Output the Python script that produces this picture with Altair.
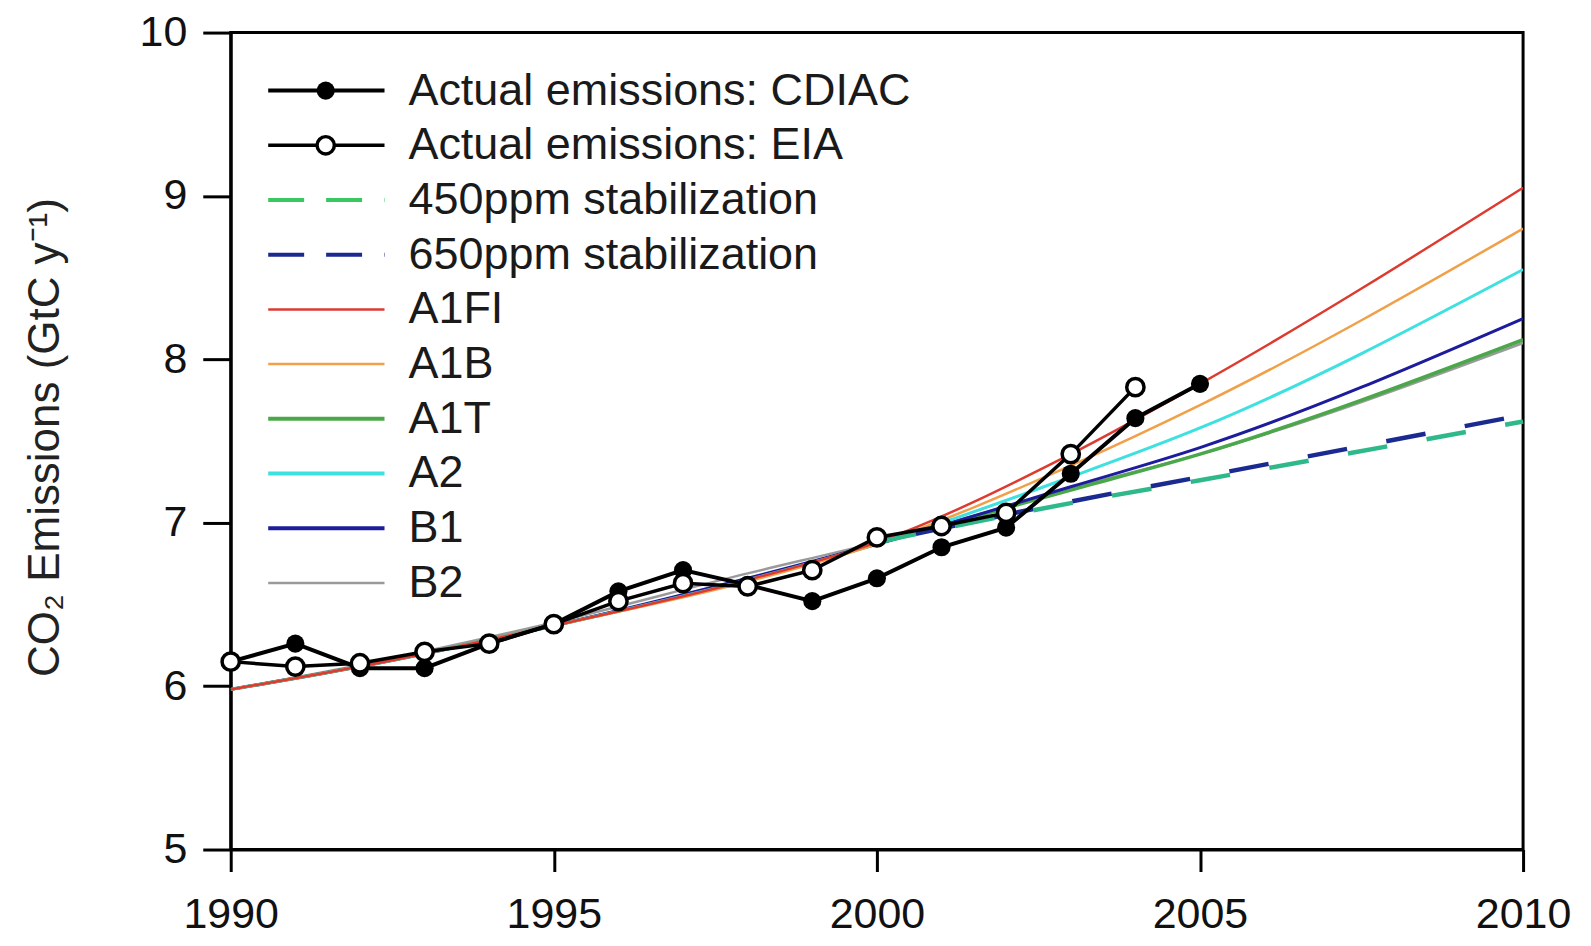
import altair as alt
import pandas as pd

# ---------------- data ----------------
obs_years = list(range(1990, 2006))
cdiac = [6.15, 6.26, 6.11, 6.11, 6.26, 6.38, 6.58, 6.71, 6.62, 6.52, 6.66, 6.85, 6.97, 7.30, 7.64, 7.85]
eia_years = list(range(1990, 2005))
eia = [6.15, 6.12, 6.14, 6.21, 6.26, 6.38, 6.52, 6.63, 6.61, 6.71, 6.91, 6.98, 7.06, 7.42, 7.83]

scen_years = [1990, 1992, 1995, 1998, 2000, 2003, 2005, 2010]
a1fi = [5.98, 6.12, 6.37, 6.65, 6.88, 7.42, 7.85, 9.05]
a1b = [5.98, 6.12, 6.37, 6.64, 6.87, 7.35, 7.72, 8.80]
a2 = [5.98, 6.12, 6.37, 6.65, 6.87, 7.28, 7.58, 8.55]
b1 = [5.98, 6.12, 6.37, 6.66, 6.87, 7.22, 7.46, 8.25]
a1t = [5.98, 6.12, 6.37, 6.65, 6.87, 7.20, 7.42, 8.12]
b2 = [5.98, 6.13, 6.39, 6.69, 6.88, 7.21, 7.42, 8.10]

stab_years = [2000, 2003, 2005, 2010]
s450 = [6.88, 7.12, 7.26, 7.62]
s650 = [6.88, 7.13, 7.28, 7.66]

legend_labels = ["Actual emissions: CDIAC", "Actual emissions: EIA", "450ppm stabilization",
                 "650ppm stabilization", "A1FI", "A1B", "A1T", "A2", "B1", "B2"]

# ---------------- style ----------------
FONT = "Liberation Sans"
W, H = 1294, 818
xs = alt.Scale(domain=[1990, 2010], nice=False, zero=False)
ys = alt.Scale(domain=[5, 10], nice=False, zero=False)

x_axis = alt.Axis(
    values=[1990, 1995, 2000, 2005, 2010], format="d", title=None, grid=False,
    tickSize=22, tickWidth=3, tickColor="black", domainWidth=3, domainColor="black",
    labelFontSize=43, labelFont=FONT, labelColor="#111", labelPadding=22,
    labelFlush=False, labelOverlap=False)
y_axis = alt.Axis(
    values=[5, 6, 7, 8, 9, 10], title="CO₂ Emissions (GtC y⁻¹)", grid=False,
    tickSize=28, tickWidth=3, tickColor="black", domainWidth=3, domainColor="black",
    labelFontSize=43, labelFont=FONT, labelColor="#111", labelPadding=16,
    titleFont=FONT, titleFontSize=44, titleFontWeight="normal", titleColor="#222",
    titleX=-185, titleY=H / 2 - 4, titleBaseline="middle", titleAngle=-90,
    labelFlush=False, labelOverlap=False)


def X(field="x"):
    return alt.X(field, type="quantitative", scale=xs, axis=x_axis)


def Y(field="y"):
    return alt.Y(field, type="quantitative", scale=ys, axis=y_axis)


layers = []

scenarios = [
    ("B2", b2, "#9a9a9a", 2.5),
    ("A1T", a1t, "#4aa84a", 3.5),
    ("B1", b1, "#1c1c9c", 3),
    ("A2", a2, "#3fe0e0", 3),
    ("A1B", a1b, "#f0a048", 2.5),
    ("A1FI", a1fi, "#dd3b30", 2.5),
]
for name, vals, col, w in scenarios:
    df = pd.DataFrame({"x": scen_years, "y": vals})
    layers.append(alt.Chart(df).mark_line(color=col, strokeWidth=w, interpolate="monotone", clip=True)
                  .encode(x=X(), y=Y()))

df450 = pd.DataFrame({"x": stab_years, "y": s450})
df650 = pd.DataFrame({"x": stab_years, "y": s650})
layers.append(alt.Chart(df450).mark_line(color="#2fb88a", strokeWidth=4.5, strokeDash=[40, 40],
                                         interpolate="monotone").encode(x=X(), y=Y()))
layers.append(alt.Chart(df650).mark_line(color="#1a2a90", strokeWidth=4.5, strokeDash=[40, 40],
                                         strokeDashOffset=40, interpolate="monotone").encode(x=X(), y=Y()))

df_c = pd.DataFrame({"x": obs_years, "y": cdiac})
df_e = pd.DataFrame({"x": eia_years, "y": eia})
layers.append(alt.Chart(df_c).mark_line(color="black", strokeWidth=4).encode(x=X(), y=Y()))
layers.append(alt.Chart(df_e).mark_line(color="black", strokeWidth=3.5).encode(x=X(), y=Y()))
layers.append(alt.Chart(df_c).mark_point(shape="circle", filled=True, color="black", size=330, opacity=1)
              .encode(x=X(), y=Y()))
layers.append(alt.Chart(df_e).mark_point(shape="circle", filled=True, fill="white", stroke="black",
                                         strokeWidth=3.5, size=300, opacity=1).encode(x=X(), y=Y()))

# ---------------- legend ----------------
row0, dy = 9.645, 0.3348
lx1, lx2, lxm, ltx = 1990.58, 1992.38, 1991.47, 1992.75
leg_styles = [
    ("black", 4, None, "filled"),
    ("black", 3.5, None, "open"),
    ("#38c860", 4, [36, 22], None),
    ("#1a2a90", 4, [36, 22], None),
    ("#dd3b30", 2.5, None, None),
    ("#f0a048", 2.5, None, None),
    ("#4aa84a", 4, None, None),
    ("#3fe0e0", 4, None, None),
    ("#1c1c9c", 4, None, None),
    ("#9a9a9a", 2.5, None, None),
]
for i, (lab, (col, w, dash, mk)) in enumerate(zip(legend_labels, leg_styles)):
    yv = row0 - i * dy
    ldf = pd.DataFrame({"x": [lx1], "x2": [lx2], "y": [yv], "xm": [lxm], "xt": [ltx], "t": [lab]})
    kw = dict(color=col, strokeWidth=w)
    if dash:
        kw["strokeDash"] = dash
    layers.append(alt.Chart(ldf).mark_rule(**kw).encode(x=X("x"), x2="x2", y=Y("y")))
    if mk == "filled":
        layers.append(alt.Chart(ldf).mark_point(shape="circle", filled=True, color="black", size=330, opacity=1)
                      .encode(x=X("xm"), y=Y("y")))
    elif mk == "open":
        layers.append(alt.Chart(ldf).mark_point(shape="circle", filled=True, fill="white", stroke="black",
                                                strokeWidth=3.5, size=300, opacity=1)
                      .encode(x=X("xm"), y=Y("y")))
    layers.append(alt.Chart(ldf).mark_text(align="left", baseline="middle", font=FONT, fontSize=45,
                                           color="#1a1a1a")
                  .encode(x=X("xt"), y=Y("y"), text="t:N"))

chart = alt.layer(*layers).properties(
    width=W, height=H,
    autosize=alt.AutoSizeParams(type="none"),
    padding={"left": 223, "top": 24, "right": 60, "bottom": 96},
).configure(
    background="white",
    view={"stroke": "black", "strokeWidth": 3},
)

chart.save("out.html", embed_options={"renderer": "svg", "actions": False})
